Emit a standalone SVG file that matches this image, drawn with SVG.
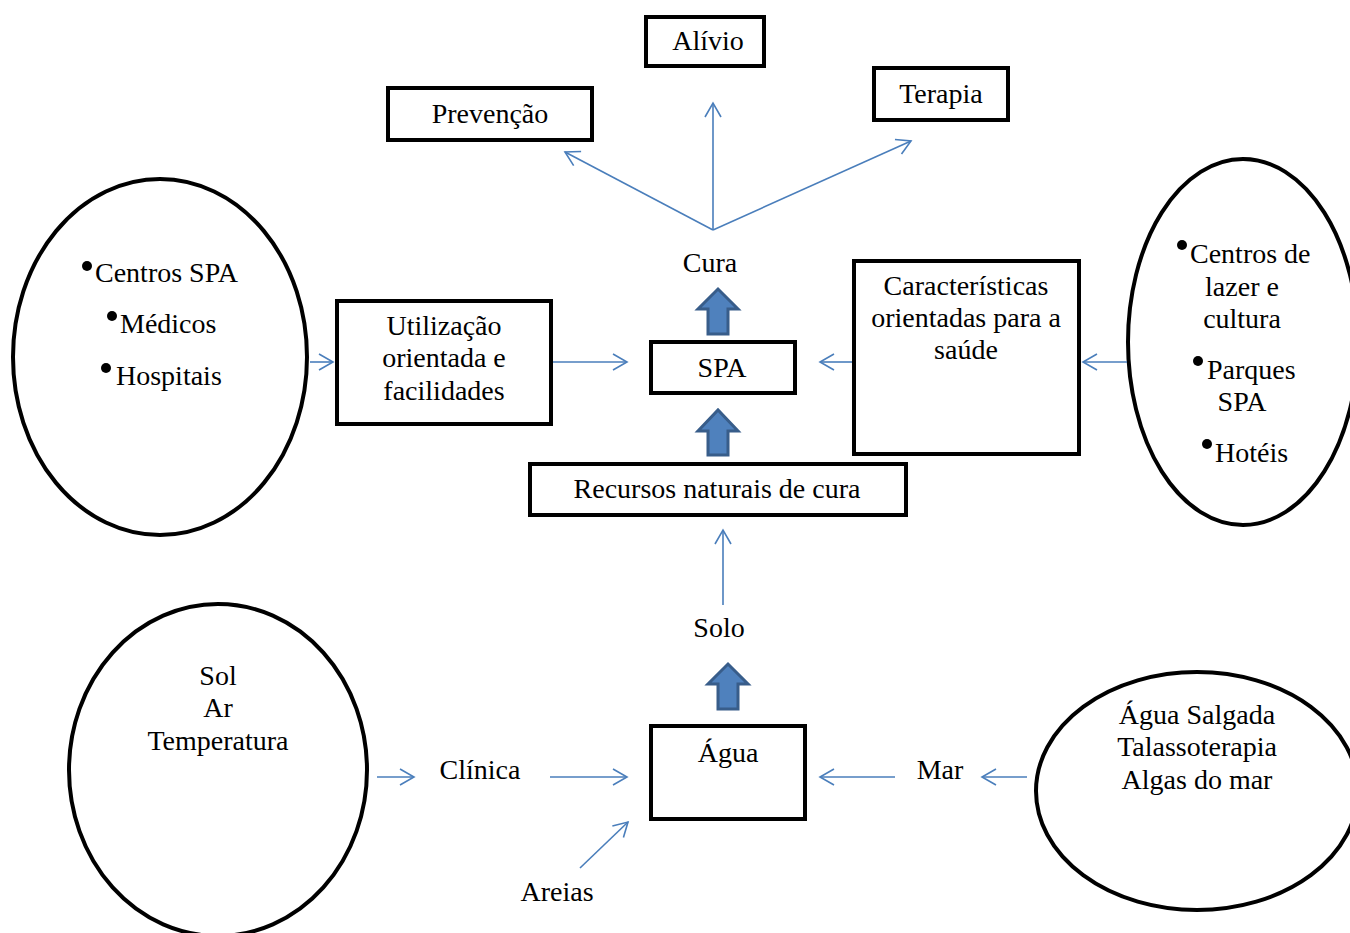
<svg xmlns="http://www.w3.org/2000/svg" width="1350" height="933" viewBox="0 0 1350 933">
  <defs>
    <marker id="open" viewBox="0 0 20 20" refX="18" refY="10" markerWidth="20" markerHeight="20" markerUnits="userSpaceOnUse" orient="auto">
      <path d="M4,2 L18,10 L4,18" fill="none" stroke="#4a7ebb" stroke-width="1.6"/>
    </marker>
    <style>
      .box { fill: #fff; stroke: #000; stroke-width: 4; }
      .oval { fill: #fff; stroke: #000; stroke-width: 4; }
      .link { fill: none; stroke: #4a7ebb; stroke-width: 1.6; marker-end: url(#open); }
      .block { fill: #4f81bd; stroke: #385d8a; stroke-width: 3; }
      .c { text-anchor: middle; }
    </style>
  </defs>

  <g font-family="'Liberation Serif', 'Times New Roman', serif" font-size="28" fill="#000">
  <!-- ovals -->
  <g id="oval-servicos">
    <ellipse class="oval" cx="160" cy="357" rx="147" ry="178"/>
    <circle cx="87" cy="266" r="5"/><text x="95" y="282">Centros SPA</text>
    <circle cx="112" cy="316" r="5"/><text x="120" y="333">Médicos</text>
    <circle cx="106" cy="368" r="5"/><text x="116" y="385">Hospitais</text>
  </g>
  <g id="oval-lazer">
    <ellipse class="oval" cx="1243" cy="342" rx="115" ry="183"/>
    <circle cx="1182" cy="245" r="5"/><text x="1190" y="263">Centros de</text>
    <text class="c" x="1242" y="296">lazer e</text>
    <text class="c" x="1242" y="328">cultura</text>
    <circle cx="1198" cy="361" r="5"/><text x="1207" y="379">Parques</text>
    <text class="c" x="1242" y="411">SPA</text>
    <circle cx="1207" cy="444" r="5"/><text x="1215" y="462">Hotéis</text>
  </g>
  <g id="oval-clima">
    <ellipse class="oval" cx="218" cy="770" rx="149" ry="166"/>
    <text class="c" x="218" y="685">Sol</text>
    <text class="c" x="218" y="717">Ar</text>
    <text class="c" x="218" y="750">Temperatura</text>
  </g>
  <g id="oval-mar">
    <ellipse class="oval" cx="1197" cy="791" rx="161" ry="119"/>
    <text class="c" x="1197" y="724">Água Salgada</text>
    <text class="c" x="1197" y="756">Talassoterapia</text>
    <text class="c" x="1197" y="789">Algas do mar</text>
  </g>

  <!-- boxes -->
  <g id="alivio"><rect class="box" x="646" y="17" width="118" height="49"/><text class="c" x="708" y="50">Alívio</text></g>
  <g id="prevencao"><rect class="box" x="388" y="88" width="204" height="52"/><text class="c" x="490" y="123">Prevenção</text></g>
  <g id="terapia"><rect class="box" x="874" y="68" width="134" height="52"/><text class="c" x="941" y="103">Terapia</text></g>
  <g id="utilizacao">
    <rect class="box" x="337" y="301" width="214" height="123"/>
    <text class="c" x="444" y="335">Utilização</text>
    <text class="c" x="444" y="367">orientada e</text>
    <text class="c" x="444" y="400">facilidades</text>
  </g>
  <g id="spa"><rect class="box" x="651" y="342" width="144" height="51"/><text class="c" x="722" y="377">SPA</text></g>
  <g id="caracteristicas">
    <rect class="box" x="854" y="261" width="225" height="193"/>
    <text class="c" x="966" y="295">Características</text>
    <text class="c" x="966" y="327">orientadas para a</text>
    <text class="c" x="966" y="359">saúde</text>
  </g>
  <g id="recursos"><rect class="box" x="530" y="464" width="376" height="51"/><text class="c" x="717" y="498">Recursos naturais de cura</text></g>
  <g id="agua"><rect class="box" x="651" y="726" width="154" height="93"/><text class="c" x="728" y="762">Água</text></g>

  <!-- free labels -->
  <g id="cura"><text class="c" x="710" y="272">Cura</text></g>
  <g id="solo"><text class="c" x="719" y="637">Solo</text></g>
  <g id="clinica"><text class="c" x="480" y="779">Clínica</text></g>
  <g id="areias"><text class="c" x="557" y="901">Areias</text></g>
  <g id="mar"><text class="c" x="940" y="779">Mar</text></g>
  </g>

  <!-- connectors -->
  <g id="connectors">
    <path class="link" d="M713,230 L713,103"/>
    <path class="link" d="M713,230 L565,152"/>
    <path class="link" d="M713,230 L911,141"/>
    <path class="link" d="M310,362 L333,362"/>
    <path class="link" d="M553,362 L627,362"/>
    <path class="link" d="M852,362 L820,362"/>
    <path class="link" d="M1127,362 L1083,362"/>
    <path class="link" d="M723,605 L723,530"/>
    <path class="link" d="M377,777 L414,777"/>
    <path class="link" d="M550,777 L627,777"/>
    <path class="link" d="M580,868 L628,822"/>
    <path class="link" d="M895,777 L820,777"/>
    <path class="link" d="M1027,777 L982,777"/>
    <path class="block" d="M708,334 L708,309 L698,309 L718,289 L738,309 L728,309 L728,334 Z"/>
    <path class="block" d="M708,455 L708,431 L698,431 L718,410 L738,431 L728,431 L728,455 Z"/>
    <path class="block" d="M718,709 L718,684 L708,684 L728,664 L748,684 L738,684 L738,709 Z"/>
  </g>
</svg>
